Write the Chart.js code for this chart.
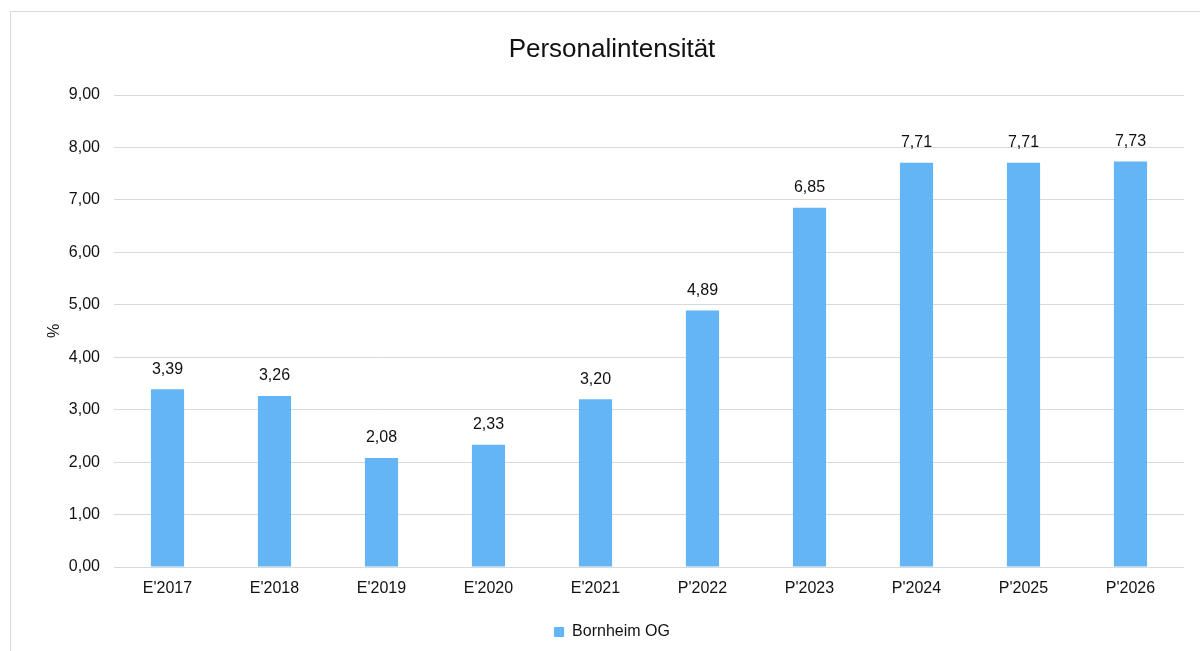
<!DOCTYPE html>
<html>
<head>
<meta charset="utf-8">
<script src="https://cdn.jsdelivr.net/npm/chart.js@4/dist/chart.umd.min.js"></script>
<style>
  html, body { margin: 0; padding: 0; background: #fff; overflow: hidden; }
  #wrap { position: relative; width: 1200px; height: 651px; }
  #frame { position: absolute; left: 10px; top: 11px; right: 0; bottom: 0;
           border-left: 1px solid #d9d9d9; border-top: 1px solid #d9d9d9; }
  #c { position: absolute; left: 0; top: 0; }
</style>
</head>
<body>
<div id="wrap">
  <div id="frame"></div>
  <canvas id="c" width="1200" height="651"></canvas>
</div>
<script>
const categories = ["E'2017", "E'2018", "E'2019", "E'2020", "E'2021", "P'2022", "P'2023", "P'2024", "P'2025", "P'2026"];
const seriesName = "Bornheim OG";
const values = [3.39, 3.26, 2.08, 2.33, 3.20, 4.89, 6.85, 7.71, 7.71, 7.73];
const yTicks = [0, 1, 2, 3, 4, 5, 6, 7, 8, 9];

const FONT = "'Liberation Sans', Arial, sans-serif";
const TEXT = '#111111';
const fmt = v => Number(v).toFixed(2).replace('.', ',');

const dataLabels = {
  id: 'dataLabels',
  afterDatasetsDraw(chart) {
    const ctx = chart.ctx;
    ctx.save();
    ctx.font = '16px ' + FONT;
    ctx.fillStyle = TEXT;
    ctx.textAlign = 'center';
    ctx.textBaseline = 'middle';
    chart.getDatasetMeta(0).data.forEach((bar, i) => {
      ctx.fillText(fmt(values[i]), bar.x, bar.y - 20);
    });
    ctx.restore();
  }
};

new Chart(document.getElementById('c'), {
  type: 'bar',
  data: {
    labels: categories,
    datasets: [{
      label: seriesName,
      data: values,
      backgroundColor: '#64b5f6',
      borderWidth: 0,
      barPercentage: 0.31,
      categoryPercentage: 1.0
    }]
  },
  options: {
    responsive: false,
    animation: false,
    layout: { padding: { left: 40, right: 16, top: 0, bottom: 1 } },
    plugins: {
      title: {
        display: true,
        text: 'Personalintensität',
        color: TEXT,
        font: { family: FONT, size: 26, weight: 'normal' },
        padding: { top: 34, bottom: 29.8 }
      },
      legend: {
        display: true,
        position: 'bottom',
        labels: {
          color: TEXT,
          font: { family: FONT, size: 16 },
          boxWidth: 10,
          boxHeight: 10,
          padding: 6
        }
      },
      tooltip: { enabled: false }
    },
    scales: {
      x: {
        grid: { display: false, drawTicks: false },
        border: { display: false },
        ticks: { color: TEXT, font: { family: FONT, size: 16 }, padding: 12, maxRotation: 0 },
        afterFit(scale) { scale.height = 51; }
      },
      y: {
        min: 0,
        max: 9,
        afterBuildTicks(scale) { scale.ticks = yTicks.map(v => ({ value: v })); },
        grid: { color: '#d9d9d9', lineWidth: 1, drawTicks: false },
        border: { display: false },
        ticks: {
          color: TEXT,
          font: { family: FONT, size: 16 },
          padding: 14,
          callback: v => fmt(v)
        },
        title: {
          display: true,
          text: '%',
          color: TEXT,
          font: { family: FONT, size: 16 },
          padding: { top: 5.4, bottom: 0 }
        },
        afterFit(scale) { scale.width = 74; }
      }
    }
  },
  plugins: [dataLabels]
});
</script>
</body>
</html>
